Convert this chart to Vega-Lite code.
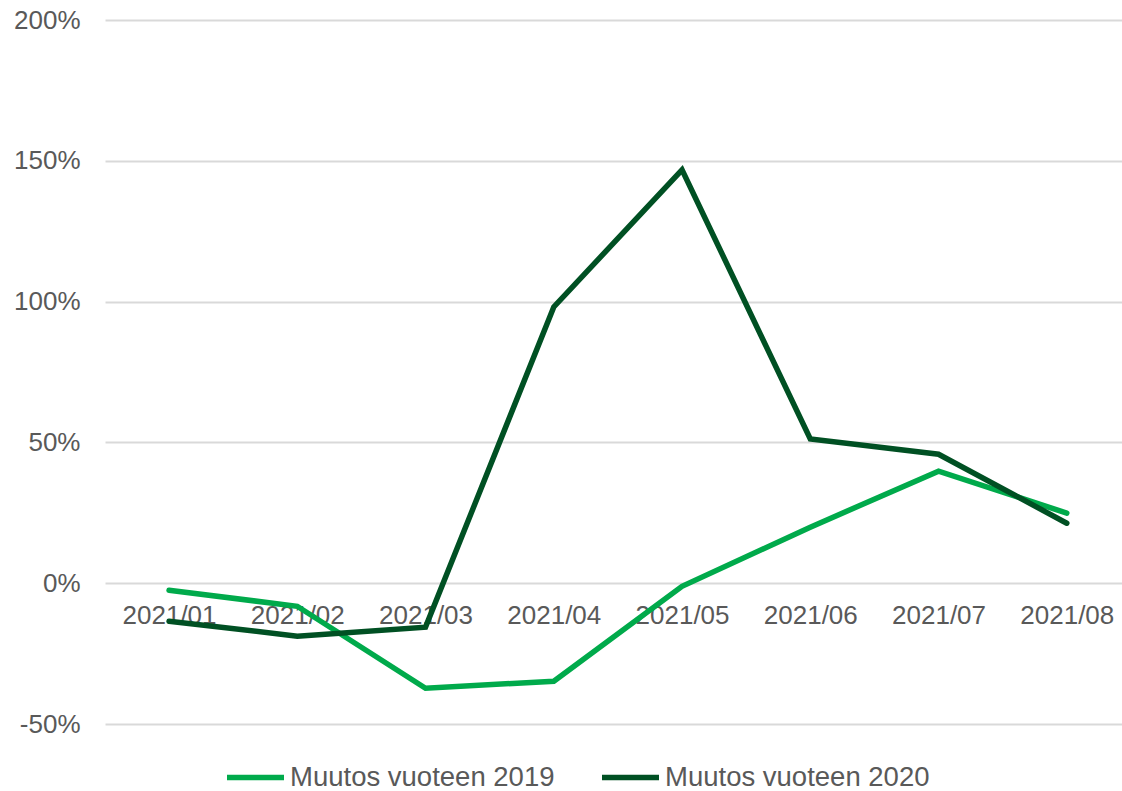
{
  "$schema": "https://vega.github.io/schema/vega-lite/v6.json",
  "width": 1017,
  "height": 704,
  "autosize": {"type": "none"},
  "padding": {"left": 105, "top": 20, "right": 0, "bottom": 67},
  "background": "white",
  "config": {
    "view": {"stroke": null},
    "font": "Liberation Sans"
  },
  "data": {
    "values": [
      {"kk": "2021/01", "sarja": "Muutos vuoteen 2019", "arvo": -2.5},
      {"kk": "2021/02", "sarja": "Muutos vuoteen 2019", "arvo": -8.2},
      {"kk": "2021/03", "sarja": "Muutos vuoteen 2019", "arvo": -37.3},
      {"kk": "2021/04", "sarja": "Muutos vuoteen 2019", "arvo": -34.8},
      {"kk": "2021/05", "sarja": "Muutos vuoteen 2019", "arvo": -1.1},
      {"kk": "2021/06", "sarja": "Muutos vuoteen 2019", "arvo": 19.9},
      {"kk": "2021/07", "sarja": "Muutos vuoteen 2019", "arvo": 39.8},
      {"kk": "2021/08", "sarja": "Muutos vuoteen 2019", "arvo": 24.9},
      {"kk": "2021/01", "sarja": "Muutos vuoteen 2020", "arvo": -13.5},
      {"kk": "2021/02", "sarja": "Muutos vuoteen 2020", "arvo": -18.8},
      {"kk": "2021/03", "sarja": "Muutos vuoteen 2020", "arvo": -15.6},
      {"kk": "2021/04", "sarja": "Muutos vuoteen 2020", "arvo": 98.1},
      {"kk": "2021/05", "sarja": "Muutos vuoteen 2020", "arvo": 146.8},
      {"kk": "2021/06", "sarja": "Muutos vuoteen 2020", "arvo": 51.2},
      {"kk": "2021/07", "sarja": "Muutos vuoteen 2020", "arvo": 45.8},
      {"kk": "2021/08", "sarja": "Muutos vuoteen 2020", "arvo": 21.3}
    ]
  },
  "mark": {"type": "line", "strokeWidth": 5.5, "strokeCap": "round", "strokeJoin": "miter"},
  "encoding": {
    "x": {
      "field": "kk",
      "type": "ordinal",
      "scale": {"type": "point", "padding": 0.4649, "align": 0.537},
      "axis": {
        "title": null,
        "orient": "bottom",
        "offset": -140.8,
        "domain": false,
        "ticks": false,
        "grid": false,
        "labelAngle": 0,
        "labelFontSize": 26,
        "labelColor": "#595959",
        "labelBaseline": "top",
        "labelPadding": 19
      }
    },
    "y": {
      "field": "arvo",
      "type": "quantitative",
      "scale": {"domain": [-50, 200], "nice": false, "zero": false},
      "axis": {
        "title": null,
        "values": [-50, 0, 50, 100, 150, 200],
        "labelExpr": "datum.value + '%'",
        "domain": false,
        "ticks": false,
        "gridColor": "#D9D9D9",
        "gridWidth": 2,
        "labelFontSize": 26,
        "labelColor": "#595959",
        "labelPadding": 25
      }
    },
    "color": {
      "field": "sarja",
      "type": "nominal",
      "scale": {
        "domain": ["Muutos vuoteen 2019", "Muutos vuoteen 2020"],
        "range": ["#00AA4B", "#005023"]
      },
      "legend": {
        "title": null,
        "orient": "none",
        "direction": "horizontal",
        "legendX": 119,
        "legendY": 726,
        "padding": 0,
        "symbolType": "stroke",
        "symbolSize": 3249,
        "symbolStrokeWidth": 5.5,
        "labelFontSize": 27.5,
        "labelLimit": 0,
        "labelColor": "#595959",
        "labelOffset": 3,
        "columnPadding": 36
      }
    }
  }
}
